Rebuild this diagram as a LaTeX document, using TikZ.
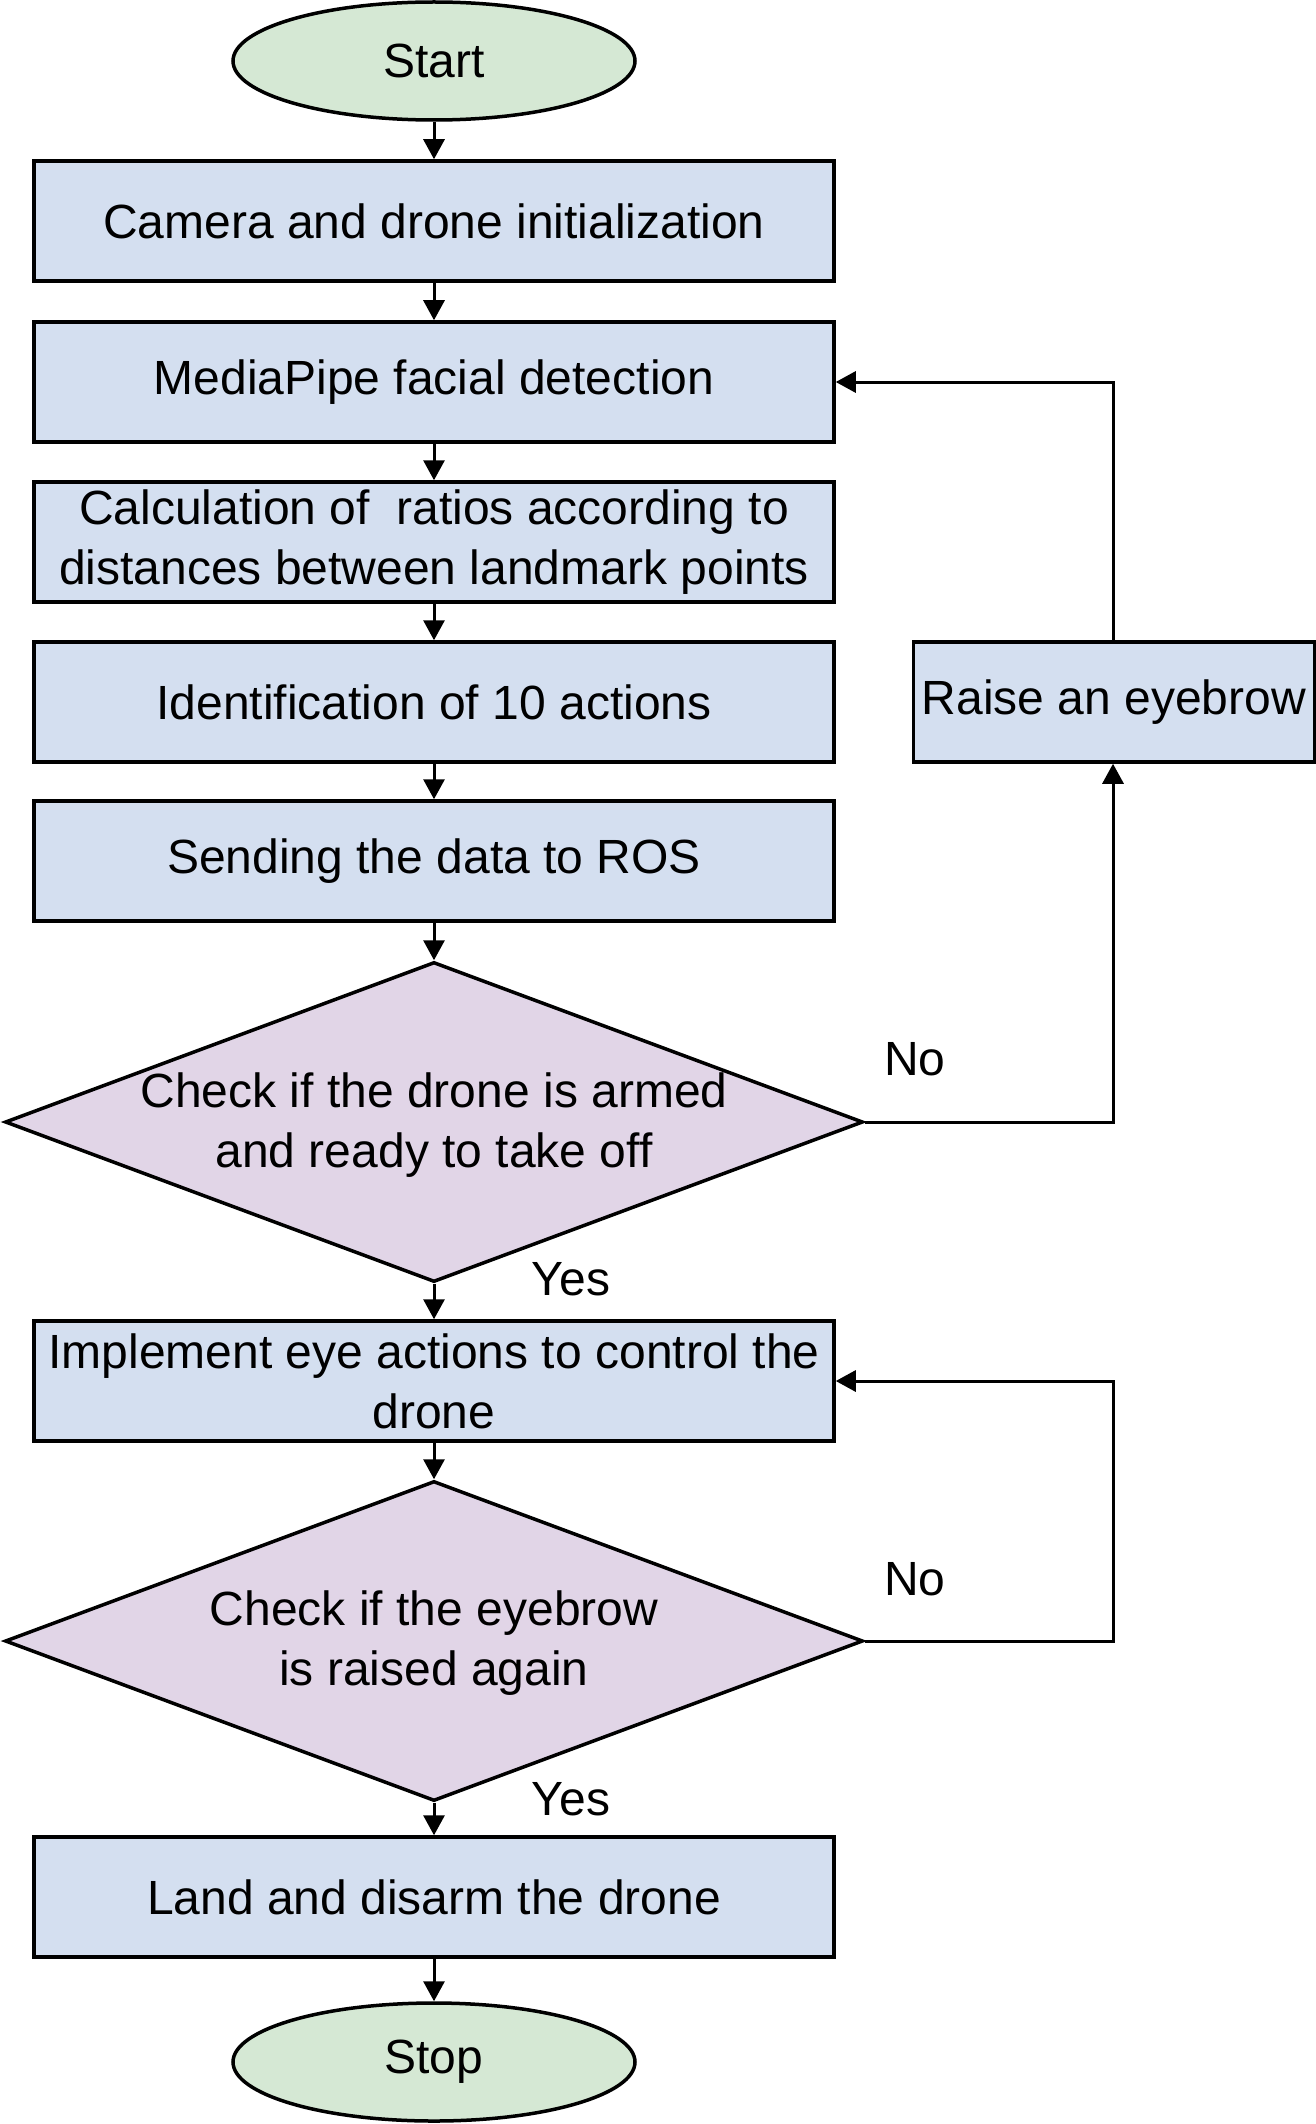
\documentclass[tikz,border=0pt]{standalone}
\usepackage{fontspec}
\setmainfont{Liberation Sans}
\usetikzlibrary{shapes.geometric,arrows.meta}
\definecolor{boxfill}{HTML}{D4DFF0}
\definecolor{ellfill}{HTML}{D5E8D4}
\definecolor{diafill}{HTML}{E1D5E7}
\tikzset{
  procbox/.style={draw=black, line width=3.5pt, fill=boxfill, rectangle, minimum width=800pt, minimum height=120pt, inner sep=0pt, align=center, font=\fontsize{48}{60}\selectfont},
  termnode/.style={draw=black, line width=3.5pt, fill=ellfill, ellipse, minimum width=402pt, minimum height=118pt, inner sep=0pt, font=\fontsize{48}{60}\selectfont},
  decnode/.style={draw=black, line width=3.5pt, fill=diafill, diamond, minimum width=858pt, minimum height=320pt, inner sep=0pt},
  dectext/.style={align=center, font=\fontsize{48}{60}\selectfont},
  conn/.style={line width=3pt, -{Triangle[length=20pt,width=21pt]}},
  lbl/.style={font=\fontsize{48}{60}\selectfont}
}
\begin{document}
\begin{tikzpicture}[x=1pt,y=-1pt]
\useasboundingbox (0,0) rectangle (1316,2124);
\node[termnode] (start) at (434,61) {Start};
\node[procbox] (b1) at (434,221) {Camera and drone initialization};
\node[procbox] (b2) at (434,382) {MediaPipe facial detection};
\node[procbox] (b3) at (434,542) {Calculation of\ \ ratios according to\\distances between landmark points};
\node[procbox] (b4) at (434,702) {Identification of 10 actions};
\node[procbox] (b5) at (434,861) {Sending the data to ROS};
\node[decnode] (d1) at (434,1122) {};
\node[dectext] (d1t) at (434,1125) {Check if the drone is armed\\and ready to take off};
\node[procbox] (b6) at (434,1381) {Implement eye actions to control the\\drone};
\node[decnode] (d2) at (434,1641) {};
\node[dectext] (d2t) at (434,1643) {Check if the eyebrow\\is raised again};
\node[procbox] (b7) at (434,1897) {Land and disarm the drone};
\node[termnode] (stop) at (434,2062) {Stop};
\node[procbox, minimum width=401pt] (raise) at (1114,702) {Raise an eyebrow};

\coordinate (c1) at (1113,1122);
\coordinate (c2) at (1113,382);
\coordinate (c3) at (1113,1641);
\coordinate (c4) at (1113,1381);

\draw[conn] (start) -- (b1);
\draw[conn] (b1) -- (b2);
\draw[conn] (b2) -- (b3);
\draw[conn] (b3) -- (b4);
\draw[conn] (b4) -- (b5);
\draw[conn] (b5) -- (d1);
\draw[conn] (d1) -- (b6);
\draw[conn] (b6) -- (d2);
\draw[conn] (d2) -- (b7);
\draw[conn] (b7) -- (stop);
\draw[conn] (d1.east) -- (c1) -- (raise.south -| c1);
\draw[conn] (raise.north -| c2) -- (c2) -- (b2.east);
\draw[conn] (d2.east) -- (c3) -- (c4) -- (b6.east);

\node[lbl] (no1) at (915,1059) {No};
\node[lbl] (yes1) at (571,1279) {Yes};
\node[lbl] (no2) at (915,1579) {No};
\node[lbl] (yes2) at (571,1799) {Yes};
\end{tikzpicture}
\end{document}
